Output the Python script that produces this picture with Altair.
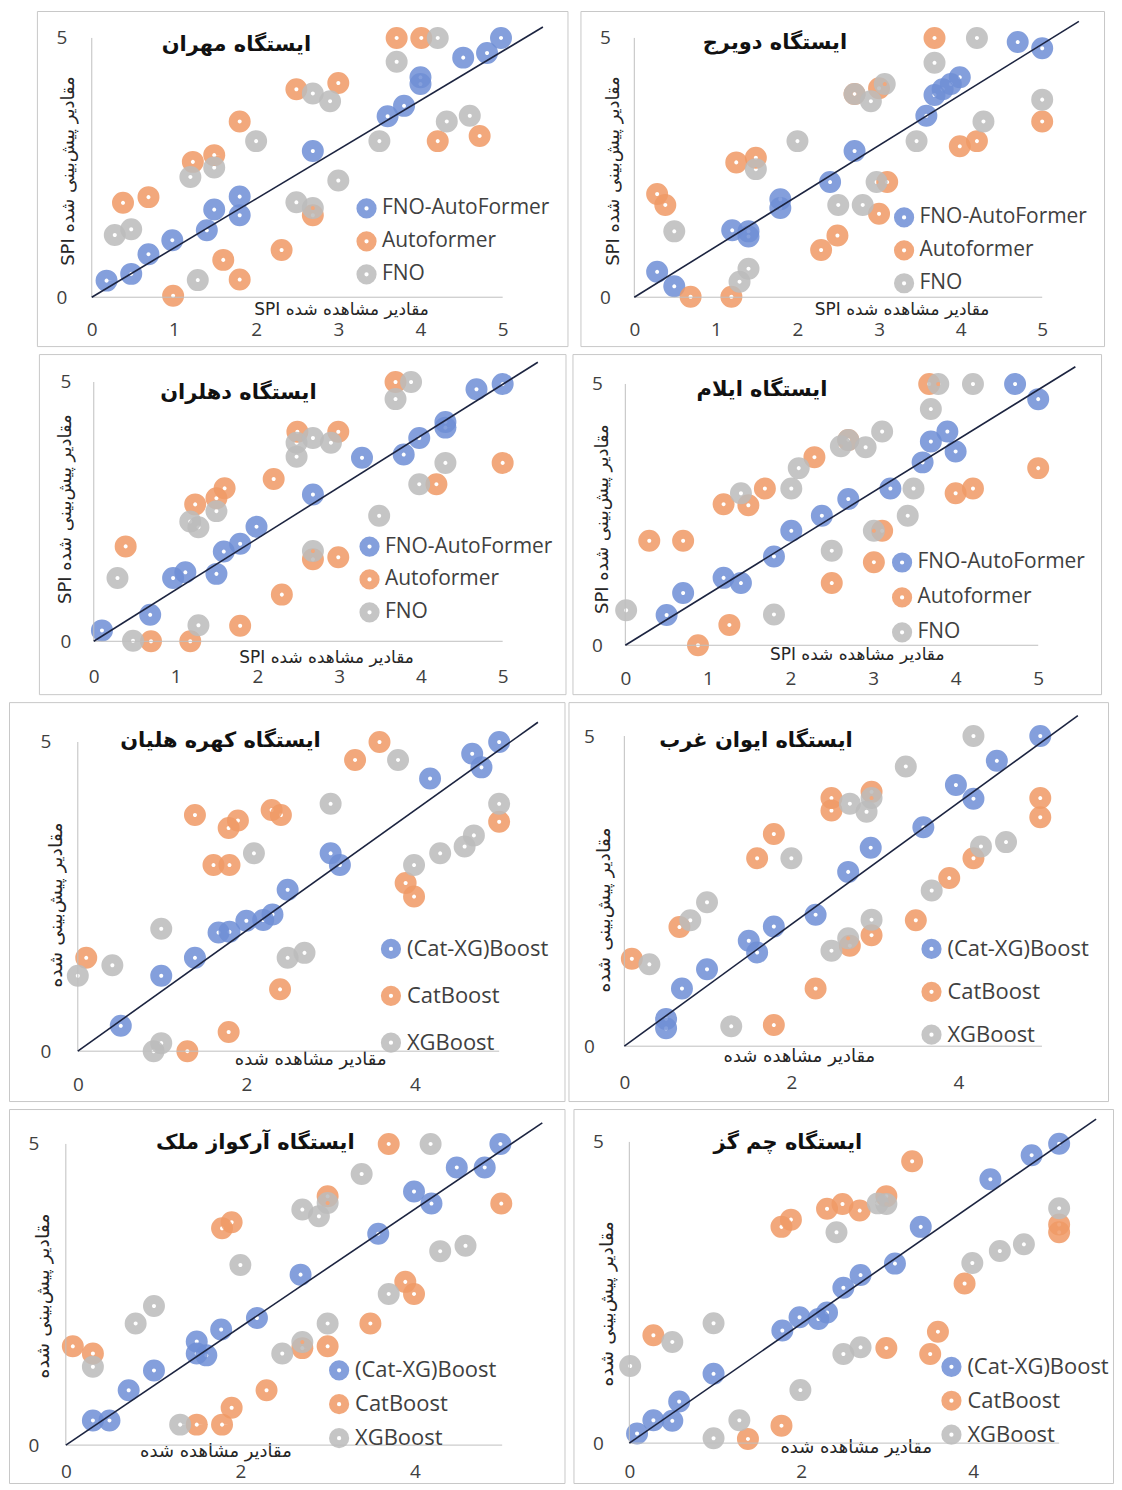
import altair as alt
import pandas as pd

# ---------------- data ----------------
SERIES_TOP = ["FNO-AutoFormer", "Autoformer", "FNO"]
SERIES_BOTTOM = ["(Cat-XG)Boost", "CatBoost", "XGBoost"]
COLORS = ["#6f8fd6", "#f09a66", "#bcbcbc"]

TITLES = [
    "ایستگاه مهران", "ایستگاه دویرج", "ایستگاه دهلران", "ایستگاه ایلام",
    "ایستگاه کهره هلیان", "ایستگاه ایوان غرب", "ایستگاه آرکواز ملک", "ایستگاه چم گز",
]
X_TITLE_TOP = "SPI مقادیر مشاهده شده"
Y_TITLE_TOP = "SPI مقادیر پیش\u200cبینی شده"
X_TITLE_BOTTOM = "مقادیر مشاهده شده"
Y_TITLE_BOTTOM = "مقادیر پیش\u200cبینی شده"
XTICKS_TOP = [0, 1, 2, 3, 4, 5]
XTICKS_BOTTOM = [0, 2, 4]
YTICKS = [0, 5]

# Panel 1 - Mehran
p1_s1 = [(0.18,0.32),(0.48,0.45),(0.69,0.83),(0.98,1.10),(1.40,1.29),(1.49,1.69),(1.80,1.58),(1.80,1.94),(2.69,2.82),(3.60,3.49),(3.80,3.69),(4.00,4.11),(4.00,4.24),(4.52,4.62),(4.81,4.71),(4.98,5.00)]
p1_s2 = [(0.38,1.82),(0.69,1.93),(0.99,0.03),(1.23,2.61),(1.49,2.74),(1.60,0.72),(1.80,0.34),(1.80,3.39),(2.31,0.91),(2.49,4.01),(2.69,1.58),(3.00,4.13),(3.71,5.00),(4.01,5.00),(4.21,3.01),(4.72,3.11)]
p1_s3 = [(0.28,1.20),(0.48,1.31),(1.20,2.32),(1.29,0.33),(1.49,2.50),(2.00,3.01),(2.49,1.83),(2.69,1.72),(2.69,3.93),(2.90,3.78),(3.00,2.25),(3.50,3.01),(3.71,4.54),(4.21,5.00),(4.32,3.39),(4.60,3.50)]
# Panel 2 - Dovirej
p2_s1 = [(0.28,0.49),(0.49,0.21),(1.20,1.29),(1.40,1.27),(1.40,1.17),(1.79,1.89),(1.79,1.72),(2.40,2.22),(2.70,2.82),(3.58,3.50),(3.68,3.90),(3.78,4.01),(3.88,4.11),(3.99,4.24),(4.70,4.92),(5.00,4.80)]
p2_s2 = [(0.28,1.99),(0.38,1.78),(0.69,0.01),(1.19,0.01),(1.25,2.60),(1.49,2.69),(2.29,0.91),(2.49,1.19),(2.70,3.92),(3.00,4.03),(3.00,1.61),(3.10,2.22),(3.68,5.00),(3.99,2.91),(4.20,3.01),(5.00,3.39)]
p2_s3 = [(0.49,1.27),(1.29,0.30),(1.40,0.55),(1.49,2.47),(2.00,3.01),(2.50,1.78),(2.70,3.92),(2.80,1.78),(2.90,3.78),(2.97,2.22),(3.07,4.11),(3.46,3.01),(3.68,4.52),(4.20,5.00),(4.28,3.39),(5.00,3.81)]
# Panel 3 - Dehloran
p3_s1 = [(0.10,0.21),(0.69,0.51),(0.97,1.22),(1.12,1.33),(1.50,1.30),(1.59,1.73),(1.79,1.88),(1.99,2.21),(2.68,2.83),(3.28,3.54),(3.79,3.60),(3.98,3.92),(4.30,4.12),(4.30,4.23),(4.68,4.86),(5.00,4.96)]
p3_s2 = [(0.39,1.83),(0.70,0.00),(1.18,0.00),(1.24,2.64),(1.50,2.76),(1.60,2.95),(1.79,0.30),(2.20,3.13),(2.30,0.90),(2.49,4.04),(2.68,1.58),(2.99,4.04),(2.99,1.62),(3.69,5.00),(4.19,3.03),(5.00,3.44)]
p3_s3 = [(0.29,1.22),(0.48,0.01),(1.18,2.31),(1.28,2.20),(1.28,0.31),(1.50,2.51),(2.48,3.83),(2.48,3.56),(2.68,3.92),(2.68,1.74),(2.90,3.83),(3.49,2.42),(3.69,4.67),(3.88,5.00),(3.98,3.03),(4.30,3.44)]
# Panel 4 - Ilam
p4_s1 = [(0.50,0.58),(0.70,1.00),(1.19,1.29),(1.40,1.19),(1.80,1.70),(2.01,2.19),(2.38,2.48),(2.70,2.80),(3.21,3.00),(3.60,3.50),(3.70,3.90),(3.90,4.09),(4.00,3.71),(4.72,5.00),(5.00,4.71)]
p4_s2 = [(0.29,2.00),(0.70,2.00),(0.88,0.00),(1.26,0.39),(1.19,2.70),(1.49,2.68),(1.69,3.00),(2.29,3.60),(2.50,1.19),(2.70,3.93),(3.01,1.59),(3.11,2.19),(3.68,5.00),(4.00,2.91),(4.21,3.00),(5.00,3.39)]
p4_s3 = [(0.01,0.67),(1.40,2.91),(1.80,0.59),(2.01,3.00),(2.10,3.39),(2.50,1.81),(2.61,3.81),(2.70,3.93),(2.91,3.79),(3.01,2.19),(3.11,4.09),(3.42,2.48),(3.49,3.00),(3.70,4.52),(3.79,5.00),(4.21,5.00)]
# Panel 5 - Kahreh Holeyan
p5_s1 = [(0.51,0.41),(0.99,1.22),(1.39,1.51),(1.67,1.92),(1.80,1.93),(2.00,2.11),(2.20,2.12),(2.31,2.21),(2.49,2.61),(3.00,3.20),(3.11,3.01),(4.18,4.41),(4.68,4.81),(4.79,4.59),(5.00,5.00)]
p5_s2 = [(0.10,1.51),(1.30,0.00),(1.39,3.82),(1.61,3.01),(1.80,3.01),(1.79,3.61),(1.90,3.73),(1.79,0.31),(2.30,3.90),(2.41,3.82),(2.40,1.00),(3.29,4.71),(3.58,5.00),(3.89,2.72),(3.99,2.50),(5.00,3.71)]
p5_s3 = [(0.00,1.22),(0.41,1.39),(0.90,0.00),(0.99,0.13),(0.99,1.98),(2.09,3.20),(2.49,1.51),(2.69,1.59),(3.00,4.00),(3.80,4.71),(3.99,3.01),(4.30,3.20),(4.59,3.31),(4.70,3.49),(5.00,4.00)]
# Panel 6 - Eivan Gharb
p6_s1 = [(0.50,0.29),(0.50,0.44),(0.69,0.93),(0.99,1.24),(1.49,1.70),(1.59,1.51),(1.79,1.93),(2.29,2.12),(2.68,2.81),(2.95,3.20),(3.58,3.53),(3.97,4.21),(4.18,3.99),(4.46,4.60),(4.98,5.00)]
p6_s2 = [(0.09,1.41),(0.66,1.92),(1.59,3.03),(1.79,3.42),(1.79,0.34),(2.29,0.93),(2.48,4.00),(2.48,3.80),(2.70,1.62),(2.96,4.10),(2.96,1.79),(3.49,2.03),(3.89,2.71),(4.18,3.03),(4.98,4.00),(4.98,3.69)]
p6_s3 = [(0.30,1.32),(0.79,2.03),(0.99,2.32),(1.28,0.32),(2.00,3.03),(2.48,1.54),(2.68,1.74),(2.70,3.91),(2.90,3.78),(2.96,4.00),(2.96,2.04),(3.37,4.51),(3.68,2.51),(4.18,5.00),(4.27,3.22),(4.57,3.29)]
# Panel 7 - Arkavaz Malek
p7_s1 = [(0.31,0.41),(0.50,0.41),(0.72,0.91),(1.01,1.24),(1.50,1.52),(1.61,1.49),(1.50,1.72),(1.78,1.92),(2.19,2.11),(2.69,2.83),(3.58,3.51),(3.99,4.21),(4.19,4.01),(4.48,4.61),(4.80,4.61),(4.98,5.00)]
p7_s2 = [(0.08,1.64),(0.31,1.52),(1.50,0.34),(1.79,0.34),(1.90,0.62),(1.79,3.60),(1.90,3.70),(2.30,0.91),(2.71,1.61),(3.00,1.64),(3.00,4.13),(3.49,2.02),(3.70,5.00),(3.89,2.71),(3.99,2.51),(4.99,4.01)]
p7_s3 = [(0.31,1.30),(0.80,2.02),(1.01,2.31),(1.31,0.34),(2.00,2.99),(2.48,1.52),(2.71,1.71),(2.71,3.91),(2.90,3.80),(3.00,4.02),(3.00,2.02),(3.39,4.50),(3.70,2.51),(4.18,5.00),(4.29,3.22),(4.58,3.31)]
# Panel 8 - Chem Gaz
p8_s1 = [(0.09,0.16),(0.28,0.38),(0.50,0.37),(0.58,0.69),(0.98,1.15),(1.78,1.87),(1.98,2.09),(2.20,2.06),(2.30,2.17),(2.49,2.58),(2.69,2.79),(3.09,2.98),(3.39,3.59),(4.20,4.38),(4.68,4.78),(5.00,4.97)]
p8_s2 = [(0.28,1.79),(1.38,0.07),(1.77,0.29),(1.77,3.59),(1.88,3.71),(2.30,3.89),(2.48,3.97),(2.68,3.86),(2.99,4.10),(2.99,1.58),(3.29,4.68),(3.50,1.48),(3.59,1.85),(3.90,2.65),(5.00,3.63),(5.00,3.50)]
p8_s3 = [(0.01,1.28),(0.50,1.68),(0.98,0.08),(0.98,1.99),(1.28,0.38),(1.99,0.88),(2.41,3.50),(2.49,1.48),(2.69,1.59),(2.89,3.98),(2.99,3.97),(3.99,2.99),(4.31,3.19),(4.59,3.30),(5.00,3.90)]

PANEL_POINTS = [
    (p1_s1, p1_s2, p1_s3), (p2_s1, p2_s2, p2_s3), (p3_s1, p3_s2, p3_s3), (p4_s1, p4_s2, p4_s3),
    (p5_s1, p5_s2, p5_s3), (p6_s1, p6_s2, p6_s3), (p7_s1, p7_s2, p7_s3), (p8_s1, p8_s2, p8_s3),
]
# end point of the 1:1 reference line drawn in each panel
LINE_END = [(5.49,5.21),(5.45,5.32),(5.43,5.38),(5.45,5.33),(5.46,5.32),(5.43,5.33),(5.46,5.35),(5.43,5.38)]

# ---------------- layout (page pixel positions) ----------------
LAYOUT = [
    dict(box=(35,8,532,336), x0=90, x5=502, y0=295, y5=35, ylab=65, xlab=327, xt=(340,307), yt=(67,168), title=(235,42), leg=(365,212,29)),
    dict(box=(578,8,525,336), x0=632, x5=1041, y0=295, y5=35, ylab=608, xlab=327, xt=(900,307), yt=(611,168), title=(773,40), leg=(902,222,28)),
    dict(box=(37,350,528,341), x0=92, x5=502, y0=638, y5=378, ylab=69, xlab=673, xt=(325,654), yt=(64,505), title=(237,389), leg=(368,546,32)),
    dict(box=(570,350,530,341), x0=623, x5=1037, y0=642, y5=380, ylab=600, xlab=675, xt=(855,651), yt=(600,515), title=(760,386), leg=(900,561,35)),
    dict(box=(8,697,557,400), x0=77, x5=499.5, y0=1047, y5=737, ylab=50, xlab=1080, xt=(310,1055), yt=(55,900), title=(220,736), leg=(390,946,48)),
    dict(box=(567,697,541,400), x0=623, x5=1041.75, y0=1042, y5=731, ylab=593, xlab=1078, xt=(798,1052), yt=(602,905), title=(755,736), leg=(930,946,44)),
    dict(box=(8,1103,557,375), x0=65, x5=502.5, y0=1440, y5=1138, ylab=38, xlab=1466, xt=(215,1446), yt=(42,1290), title=(255,1137), leg=(338,1370,29.5)),
    dict(box=(572,1103,541,375), x0=628, x5=1059, y0=1438, y5=1136, ylab=602, xlab=1466, xt=(855,1442), yt=(605,1298), title=(787,1137), leg=(950,1363,33.5)),
]

LATIN = "Open Sans"
PERSIAN = "DejaVu Sans"
ONE = pd.DataFrame({"a": [0]})
LEGEND_MIN_STEP = 33.0   # smallest row step vega's legend gives at this font size


def make_panel(k):
    lay = LAYOUT[k]
    L, T, W, H = lay["box"]
    ux = (lay["x5"] - lay["x0"]) / 5.0
    uy = (lay["y0"] - lay["y5"]) / 5.0
    xdom = [-(lay["x0"] - L) / ux, (L + W - lay["x0"]) / ux]
    ydom = [-(T + H - lay["y0"]) / uy, (lay["y0"] - T) / uy]
    top = k < 4
    names = SERIES_TOP if top else SERIES_BOTTOM

    rows = []
    for name, pts in zip(names, PANEL_POINTS[k]):
        for (x, y) in pts:
            rows.append({"x": x, "y": y, "series": name})
    df = pd.DataFrame(rows)

    xscale = alt.Scale(domain=xdom, nice=False, zero=False)
    yscale = alt.Scale(domain=ydom, nice=False, zero=False)

    xaxis = alt.Axis(
        values=XTICKS_TOP if top else XTICKS_BOTTOM, domain=False, ticks=False, tickSize=0, grid=False,
        labelFont=LATIN, labelFontSize=19, labelColor="#404040", labelBaseline="middle",
        labelPadding=0, labelFlush=False, labelOverlap=False,
        offset=(lay["xlab"] - T) - H,
        title=X_TITLE_TOP if top else X_TITLE_BOTTOM,
        titleFont=PERSIAN, titleFontSize=17 if top else 18, titleFontWeight="normal", titleColor="#262626",
        titleX=lay["xt"][0] - L, titleY=lay["xt"][1] - lay["xlab"], titleAngle=0,
        titleAlign="center", titleBaseline="middle",
    )
    yaxis = alt.Axis(
        values=YTICKS, domain=False, ticks=False, tickSize=0, grid=False,
        labelFont=LATIN, labelFontSize=19, labelColor="#404040", labelBaseline="middle",
        labelAlign="right", labelPadding=0, labelFlush=False, labelOverlap=False,
        offset=-(lay["ylab"] - L),
        title=Y_TITLE_TOP if top else Y_TITLE_BOTTOM,
        titleFont=PERSIAN, titleFontSize=18 if top else 19, titleFontWeight="normal", titleColor="#262626",
        titleX=lay["yt"][0] - lay["ylab"], titleY=lay["yt"][1] - T, titleAngle=270,
        titleAlign="center", titleBaseline="middle",
    )

    lx, ly0, lsp = lay["leg"]
    lfs = 21 if top else 22
    entry_h = 2 * lfs + 3                 # height vega gives each legend entry here
    step = max(lsp, LEGEND_MIN_STEP)      # row step actually obtained
    first_row = ly0 + (lsp - step)        # keep the middle row where the reference has it
    legend = alt.Legend(
        orient="none", legendX=lx - L - 10, legendY=first_row - T - 12.5, title=None,
        labelFont=LATIN, labelFontSize=lfs, labelColor="#404040", labelLimit=400,
        symbolType="circle", symbolSize=150, symbolStrokeWidth=8, labelOffset=5,
        rowPadding=lsp - entry_h, padding=0,
    )

    def X(**kw):
        return alt.X(scale=xscale, axis=xaxis, **kw)

    def Y(**kw):
        return alt.Y(scale=yscale, axis=yaxis, **kw)

    points = alt.Chart(df).mark_point(filled=False, size=170, strokeWidth=9, opacity=0.85).encode(
        x=X(field="x", type="quantitative"),
        y=Y(field="y", type="quantitative"),
        color=alt.Color("series:N", scale=alt.Scale(domain=names, range=COLORS), legend=legend),
    )

    xline = alt.Chart(ONE).mark_rule(color="#bfbfbf", strokeWidth=1).encode(
        x=X(datum=0), x2=alt.X2(datum=5), y=Y(datum=0))
    yline = alt.Chart(ONE).mark_rule(color="#bfbfbf", strokeWidth=1).encode(
        y=Y(datum=0), y2=alt.Y2(datum=5), x=X(datum=0))

    ex, ey = LINE_END[k]
    diag = alt.Chart(ONE).mark_rule(color="#1c2440", strokeWidth=1.6).encode(
        x=X(datum=0), x2=alt.X2(datum=ex), y=Y(datum=0), y2=alt.Y2(datum=ey),
    )

    title = alt.Chart(ONE).mark_text(
        font=PERSIAN, fontSize=21, fontWeight="bold", color="#111111", align="center", baseline="middle"
    ).encode(x=alt.value(lay["title"][0] - L), y=alt.value(lay["title"][1] - T), text=alt.value(TITLES[k]))

    return alt.layer(points, xline, yline, diag, title).properties(
        width=W, height=H, view=alt.ViewBackground(stroke="#c8c8c8", strokeWidth=1, fill="white")
    )


def spacer(w):
    return alt.Chart(ONE).mark_point(opacity=0, size=1, strokeWidth=0).encode(
        x=alt.value(w / 2.0), y=alt.value(5)
    ).properties(width=w, height=10, view=alt.ViewBackground(stroke=None))


panels = [make_panel(k) for k in range(8)]

row1 = alt.hconcat(spacer(16), panels[0], panels[1], spacing=11).resolve_scale(color="independent").resolve_legend(color="independent")
row2 = alt.hconcat(spacer(24), panels[2], panels[3], spacing=5).resolve_scale(color="independent").resolve_legend(color="independent")
row3 = alt.hconcat(panels[4], panels[5], spacing=2).resolve_scale(color="independent").resolve_legend(color="independent")
row4 = alt.hconcat(panels[6], panels[7], spacing=7).resolve_scale(color="independent").resolve_legend(color="independent")

chart = alt.vconcat(row1, row2, row3, row4, spacing=6).resolve_scale(
    color="independent").resolve_legend(color="independent").properties(
    padding={"left": 0, "top": 0, "right": 0, "bottom": 0}
).configure(background="white").configure_view(stroke=None)

chart.save("out.html", embed_options={"renderer": "svg", "actions": False})
